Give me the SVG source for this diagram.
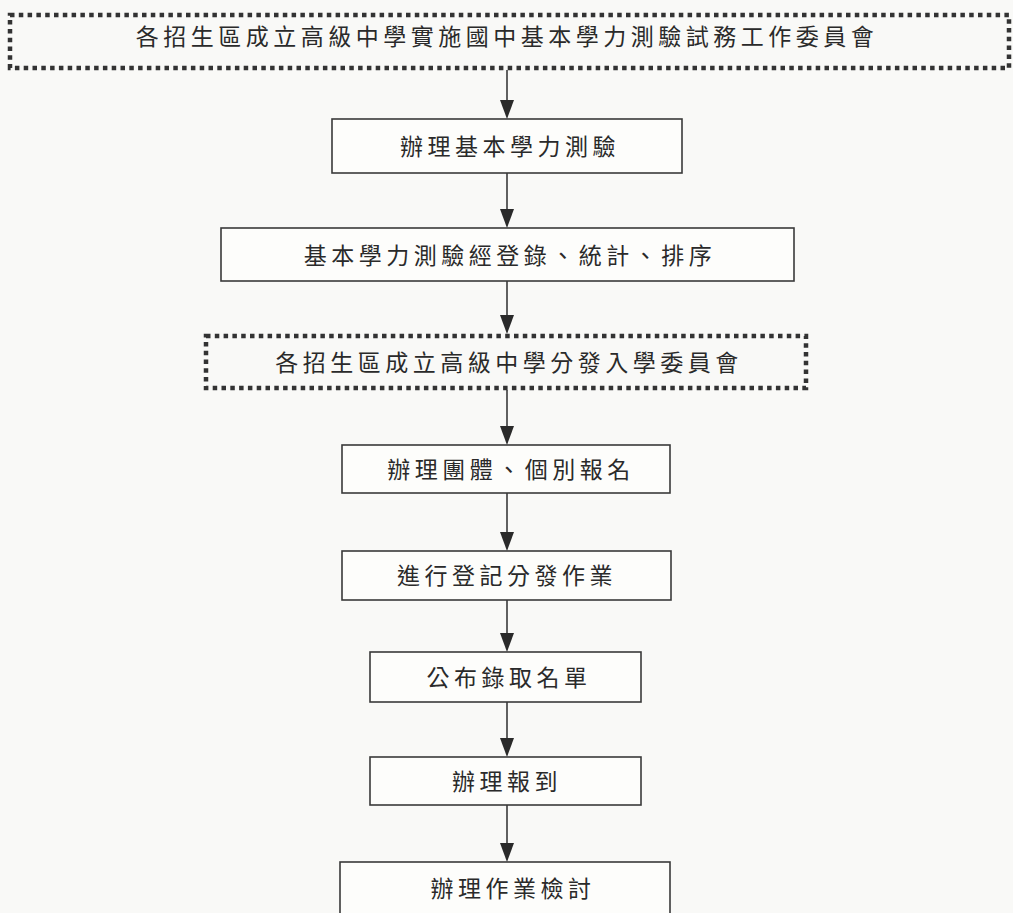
<svg xmlns="http://www.w3.org/2000/svg" width="1013" height="913" viewBox="0 0 1013 913">
<style>
.box{fill:#fdfdfb;stroke:#3a3a3a;stroke-width:1.6}
.dbox{fill:none;stroke:#333;stroke-width:4.5;stroke-dasharray:4.5 4.3}
.t{font-family:"Noto Sans CJK TC","Noto Sans CJK SC",sans-serif;font-size:23px;fill:#2a2a2a;text-anchor:middle;letter-spacing:4.5px}
.c{stroke:#3a3a3a;stroke-width:1.6;fill:none}
.ah{fill:#2a2a2a}
</style>
<rect width="1013" height="913" fill="#f9f9f7"/>
<g id="connectors">
<line class="c" x1="507" y1="70" x2="507" y2="100"/><path class="ah" d="M500,100 L514,100 L507,119 Z"/>
<line class="c" x1="507" y1="173" x2="507" y2="209"/><path class="ah" d="M500,209 L514,209 L507,228 Z"/>
<line class="c" x1="507" y1="281" x2="507" y2="315"/><path class="ah" d="M500,315 L514,315 L507,334 Z"/>
<line class="c" x1="507" y1="390" x2="507" y2="426"/><path class="ah" d="M500,426 L514,426 L507,445 Z"/>
<line class="c" x1="507" y1="493" x2="507" y2="532"/><path class="ah" d="M500,532 L514,532 L507,551 Z"/>
<line class="c" x1="507" y1="600" x2="507" y2="633"/><path class="ah" d="M500,633 L514,633 L507,652 Z"/>
<line class="c" x1="507" y1="702" x2="507" y2="738"/><path class="ah" d="M500,738 L514,738 L507,757 Z"/>
<line class="c" x1="507" y1="805" x2="507" y2="843"/><path class="ah" d="M500,843 L514,843 L507,862 Z"/>
</g>
<g id="n1"><rect class="dbox" x="10" y="15" width="999" height="53"/><text class="t" x="507" y="45">各招生區成立高級中學實施國中基本學力測驗試務工作委員會</text></g>
<g id="n2"><rect class="box" x="332" y="119" width="350" height="54"/><text class="t" x="510" y="155">辦理基本學力測驗</text></g>
<g id="n3"><rect class="box" x="221" y="228" width="573" height="53"/><text class="t" x="510" y="264">基本學力測驗經登錄、統計、排序</text></g>
<g id="n4"><rect class="dbox" x="206" y="336" width="600" height="52"/><text class="t" x="509" y="371">各招生區成立高級中學分發入學委員會</text></g>
<g id="n5"><rect class="box" x="342" y="445" width="328" height="48"/><text class="t" x="511" y="478">辦理團體、個別報名</text></g>
<g id="n6"><rect class="box" x="342" y="551" width="329" height="49"/><text class="t" x="507" y="584">進行登記分發作業</text></g>
<g id="n7"><rect class="box" x="370" y="652" width="271" height="50"/><text class="t" x="509" y="686">公布錄取名單</text></g>
<g id="n8"><rect class="box" x="370" y="757" width="271" height="48"/><text class="t" x="507" y="790">辦理報到</text></g>
<g id="n9"><rect class="box" x="340" y="862" width="330" height="60"/><text class="t" x="513" y="897">辦理作業檢討</text></g>
</svg>
